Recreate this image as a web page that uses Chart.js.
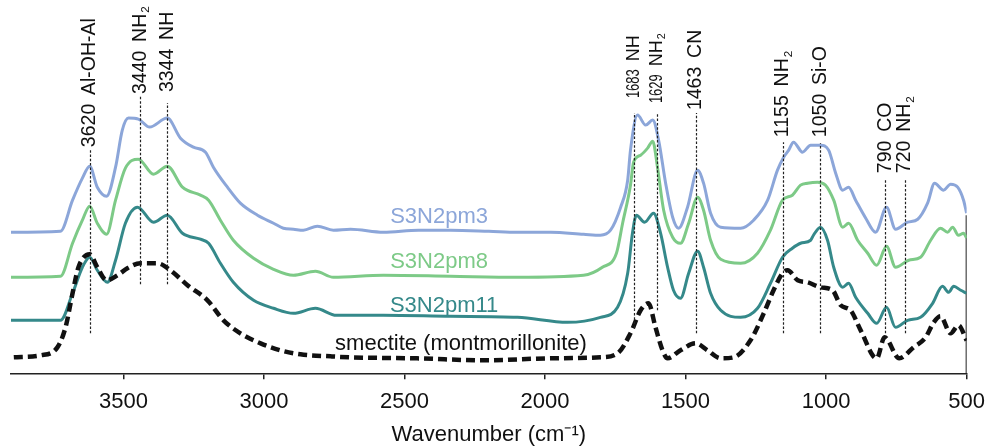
<!DOCTYPE html>
<html>
<head>
<meta charset="utf-8">
<script src="https://cdn.jsdelivr.net/npm/chart.js@4.4.1/dist/chart.umd.min.js"></script>
<style>
  html, body { margin: 0; padding: 0; background: #fff; }
  #wrap { width: 989px; height: 446px; }
</style>
</head>
<body>
<div id="wrap"><canvas id="ftir" width="989" height="446"></canvas></div>
<script>
// x ticks (wavenumber, cm-1)
const xTicks = [3500, 3000, 2500, 2000, 1500, 1000, 500];

// spectra, [wavenumber, offset absorbance (a.u.)]
const pm3 = [[3900,141],[3724,142],[3681,173],[3646,195],[3620,207],[3593,186],[3560,177],[3528,206],[3504,243],[3482,255],[3447,254],[3407,246],[3344,255],[3297,235],[3251,226],[3208,221],[3180,206],[3130,186],[3084,170],[3023,158],[2966,150],[2931,145],[2895,144],[2860,143],[2810,147],[2753,143],[2692,144],[2575,141],[2450,143],[2336,143],[2200,142],[2098,141],[1980,141],[1863,139],[1803,138],[1767,143],[1731,166],[1706,193],[1696,223],[1671,258],[1642,248],[1617,253],[1596,233],[1571,190],[1546,156],[1525,145],[1493,166],[1457,203],[1436,190],[1411,160],[1375,146],[1304,145],[1258,153],[1208,173],[1173,203],[1151,216],[1133,223],[1116,231],[1084,221],[1055,228],[1020,228],[991,223],[966,200],[941,183],[920,186],[895,173],[859,155],[824,141],[785,166],[753,144],[710,151],[674,154],[639,170],[614,190],[582,183],[557,189],[532,186],[511,173],[500,160]];

const pm8 = [[3900,96],[3724,97],[3681,130],[3646,153],[3620,167],[3593,150],[3560,139],[3528,173],[3493,205],[3447,214],[3393,199],[3344,207],[3290,186],[3226,178],[3197,173],[3155,153],[3109,133],[3037,115],[2966,104],[2895,98],[2817,102],[2753,96],[2575,98],[2336,97],[2098,96],[1863,98],[1796,106],[1746,120],[1724,150],[1696,188],[1685,211],[1660,218],[1635,225],[1617,232],[1600,206],[1578,163],[1546,136],[1518,130],[1489,150],[1457,176],[1436,163],[1411,133],[1375,114],[1304,110],[1244,120],[1198,143],[1155,173],[1120,178],[1091,188],[1066,190],[1030,191],[1002,188],[973,173],[941,146],[920,150],[888,133],[852,120],[820,108],[785,127],[753,106],[706,113],[664,116],[628,133],[593,145],[568,141],[550,146],[529,138],[511,140],[500,135]];

const pm11 = [[3900,53],[3724,53],[3681,80],[3646,106],[3620,116],[3593,103],[3557,91],[3528,113],[3493,150],[3450,166],[3393,151],[3344,158],[3290,140],[3226,134],[3197,130],[3155,110],[3109,91],[3037,73],[2966,65],[2895,60],[2817,65],[2742,58],[2575,58],[2336,57],[2098,56],[1920,51],[1803,56],[1742,66],[1706,100],[1689,140],[1675,158],[1646,151],[1614,160],[1589,140],[1564,106],[1543,83],[1518,75],[1489,100],[1457,122],[1436,106],[1411,80],[1375,63],[1304,56],[1244,65],[1198,90],[1155,116],[1120,125],[1091,130],[1055,133],[1045,138],[1020,146],[995,133],[973,106],[941,86],[920,90],[895,76],[852,60],[820,50],[785,66],[753,46],[710,53],[664,56],[621,70],[586,87],[564,81],[546,87],[521,83],[500,80]];

const smectite = [[3890,16],[3795,18],[3735,26],[3706,46],[3681,80],[3660,106],[3620,119],[3593,106],[3560,93],[3521,98],[3486,105],[3440,110],[3379,110],[3333,103],[3272,88],[3201,73],[3144,53],[3084,40],[3012,30],[2941,23],[2870,19],[2763,17],[2692,16],[2455,15],[2220,13],[1980,15],[1803,16],[1742,20],[1696,40],[1660,63],[1632,70],[1607,46],[1582,23],[1564,15],[1518,23],[1464,30],[1422,23],[1375,15],[1329,16],[1269,33],[1222,60],[1187,83],[1155,100],[1137,103],[1101,93],[1066,91],[1020,86],[977,83],[948,68],[913,63],[877,43],[820,15],[792,36],[740,15],[689,26],[646,36],[617,51],[593,57],[557,40],[529,48],[500,33]];

const seriesNames = ['S3N2pm3', 'S3N2pm8', 'S3N2pm11', 'smectite (montmorillonite)'];

// peak assignments: where the marker is drawn, the printed number, the group
const peakWn = [3620, 3440, 3344, 1683, 1603, 1463, 1155, 1020, 790, 720];
const peakNum = ['3620', '3440', '3344', '1683', '1629', '1463', '1155', '1050', '790', '720'];
const peakGroup = ['Al-OH-Al', 'NH_2', 'NH', 'NH', 'NH_2', 'CN', 'NH_2', 'Si-O', 'CO', 'NH_2'];

// layout of the annotations (in y units of the plot)
const markTop = [223, 278, 270, 260, 260, 260, 231, 230, 193, 193];
const markBottom = [40, 89, 89, 45, 63, 40, 40, 40, 40, 40];
const labelBase = [226, 279, 281, 275, 270, 263, 236, 236, 200, 200];
const narrowLabel = [false, false, false, true, true, false, false, false, false, false];
const nameAt = [[2377, 150], [2377, 105], [2359, 61], [2299, 23]];

const FONT = '"Liberation Sans", Arial, sans-serif';
const colors = ['#8ca6d9', '#7dca87', '#35898a', '#111111'];

const toPts = arr => arr.map(p => ({ x: p[0], y: p[1] }));

function drawPeakLabel(ctx, x, y, num, group, narrow) {
    const size = narrow ? 18 : 19.5;
    ctx.save();
    ctx.translate(x, y);
    ctx.rotate(-Math.PI / 2);
    ctx.fillStyle = '#111';
    ctx.textAlign = 'left';
    ctx.textBaseline = 'middle';
    ctx.font = size + 'px ' + FONT;
    let pos = 0;
    if (narrow) {
        ctx.save();
        ctx.scale(0.72, 1);
        ctx.fillText(num, 0, 0);
        ctx.restore();
        pos += ctx.measureText(num).width * 0.72;
    } else {
        ctx.fillText(num, 0, 0);
        pos += ctx.measureText(num).width;
    }
    pos += size * 0.45;
    const sub = group.endsWith('_2');
    const main = sub ? group.slice(0, -2) : group;
    ctx.fillText(main, pos, 0);
    pos += ctx.measureText(main).width;
    if (sub) {
        ctx.font = (size * 0.6) + 'px ' + FONT;
        ctx.fillText('2', pos + 1, size * 0.3);
    }
    ctx.restore();
}

const peakMarks = {
    id: 'peakMarks',
    afterDatasetsDraw(chart) {
        const { ctx, scales: { x, y } } = chart;
        ctx.save();
        ctx.strokeStyle = '#222';
        ctx.lineWidth = 1.2;
        ctx.setLineDash([2.5, 1.8]);
        peakWn.forEach((wn, i) => {
            const px = Math.round(x.getPixelForValue(wn)) + 0.5;
            ctx.beginPath();
            ctx.moveTo(px, y.getPixelForValue(markBottom[i]));
            ctx.lineTo(px, y.getPixelForValue(markTop[i]));
            ctx.stroke();
        });
        ctx.setLineDash([]);
        peakWn.forEach((wn, i) => {
            drawPeakLabel(ctx, x.getPixelForValue(wn), y.getPixelForValue(labelBase[i]),
                peakNum[i], peakGroup[i], narrowLabel[i]);
        });
        // series names
        ctx.textAlign = 'center';
        ctx.textBaseline = 'alphabetic';
        ctx.font = '22px ' + FONT;
        seriesNames.forEach((name, i) => {
            ctx.fillStyle = colors[i];
            ctx.fillText(name, x.getPixelForValue(nameAt[i][0]), y.getPixelForValue(nameAt[i][1]));
        });
        ctx.restore();
    }
};

const lineSet = (data, color, extra) => Object.assign({
    data: toPts(data),
    borderColor: color,
    borderWidth: 3,
    pointRadius: 0,
    fill: false,
    cubicInterpolationMode: 'monotone'
}, extra || {});

new Chart(document.getElementById('ftir').getContext('2d'), {
    type: 'line',
    data: {
        datasets: [
            lineSet(smectite, colors[3], { borderWidth: 4.5, borderDash: [9, 5], order: 0 }),
            lineSet(pm11, colors[2], { order: 1 }),
            lineSet(pm8, colors[1], { order: 2 }),
            lineSet(pm3, colors[0], { order: 3 }),
            // short frame tick at the right end
            { data: [{ x: 500, y: 0 }, { x: 500, y: 158 }], borderColor: '#222', borderWidth: 2, pointRadius: 0, order: 4 }
        ]
    },
    options: {
        responsive: false,
        animation: false,
        layout: { padding: { left: 11, right: 22, top: 0, bottom: 1 } },
        plugins: { legend: { display: false }, tooltip: { enabled: false } },
        scales: {
            x: {
                type: 'linear',
                reverse: true,
                min: 500,
                max: 3900,
                afterBuildTicks: axis => { axis.ticks = xTicks.map(v => ({ value: v })); },
                grid: { display: true, drawOnChartArea: false, tickLength: 6, color: '#222', lineWidth: 1.5 },
                border: { display: true, color: '#222', width: 1.5 },
                ticks: {
                    color: '#111', padding: 4, maxRotation: 0, autoSkip: false,
                    font: { family: FONT, size: 22, lineHeight: 1.72 },
                    callback: v => String(v)
                },
                title: {
                    display: true, text: 'Wavenumber (cm\u207B\u00B9)', color: '#111',
                    font: { family: FONT, size: 22, lineHeight: 0.9 }, padding: { top: 0, bottom: 0 }
                }
            },
            y: { display: false, min: 0, max: 373 }
        }
    },
    plugins: [peakMarks]
});
</script>
</body>
</html>
